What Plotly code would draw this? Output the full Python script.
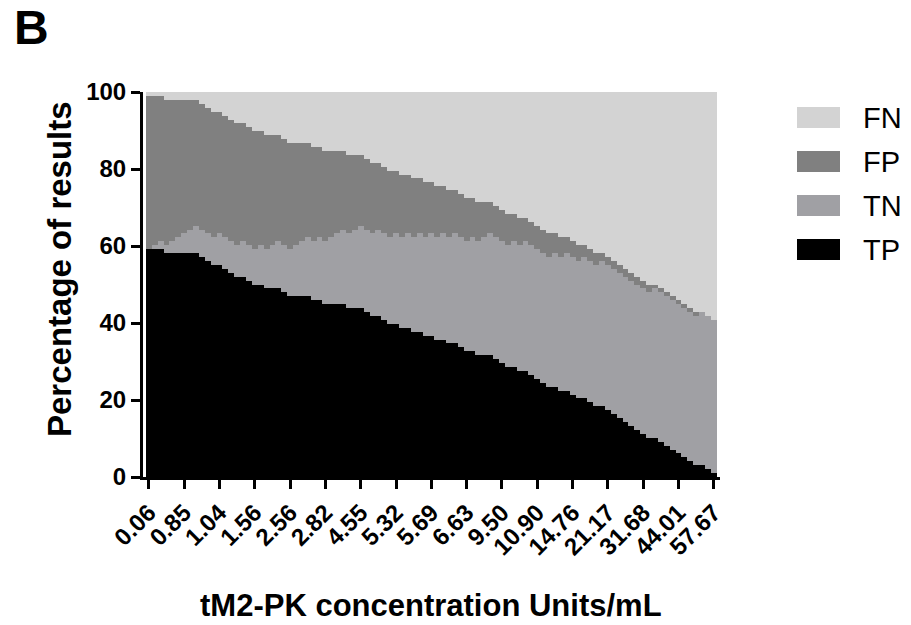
import plotly.graph_objects as go

# ---- data (counts out of 98 results) ----
N_RESULTS = 98

TP_n = [58, 58, 58, 57, 57, 57, 57, 57, 57, 56,
        55, 54, 54, 53, 52, 51, 51, 50, 49, 49,
        48, 48, 48, 47, 46, 46, 46, 46, 45, 45,
        44, 44, 44, 44, 43, 43, 43, 42, 41, 41,
        40, 39, 39, 38, 38, 37, 37, 36, 36, 35,
        35, 34, 34, 33, 32, 32, 31, 31, 31, 30,
        29, 28, 28, 27, 27, 26, 25, 24, 23, 23,
        22, 22, 21, 20, 20, 19, 18, 18, 17, 16,
        15, 14, 13, 12, 11, 10, 10, 9, 8, 7,
        6, 5, 4, 3, 3, 2, 1]

TN_n = [0, 1, 2, 2, 3, 4, 5, 6, 7, 7,
        7, 7, 8, 8, 8, 8, 9, 9, 9, 10,
        10, 11, 12, 12, 12, 13, 14, 15, 15, 16,
        16, 17, 18, 19, 19, 20, 21, 21, 21, 22,
        22, 22, 23, 23, 24, 24, 25, 25, 26, 26,
        27, 27, 28, 28, 28, 29, 29, 30, 31, 31,
        31, 31, 32, 32, 33, 33, 33, 33, 33, 34,
        34, 35, 35, 35, 36, 36, 36, 37, 37, 37,
        37, 37, 37, 37, 37, 37, 38, 38, 38, 38,
        38, 38, 38, 38, 39, 39, 39]

FP_n = [39, 38, 37, 37, 36, 35, 34, 33, 32, 32,
        32, 32, 31, 31, 31, 31, 30, 30, 30, 29,
        29, 28, 27, 27, 27, 26, 25, 24, 24, 23,
        23, 22, 21, 20, 20, 19, 18, 18, 18, 17,
        17, 17, 16, 16, 15, 15, 14, 14, 13, 13,
        12, 12, 11, 11, 11, 10, 10, 9, 8, 8,
        8, 8, 7, 7, 6, 6, 6, 6, 6, 5,
        5, 4, 4, 4, 3, 3, 3, 2, 2, 2,
        2, 2, 2, 2, 2, 2, 1, 1, 1, 1,
        1, 1, 1, 1, 0, 0, 0]

FN_n = [1, 1, 1, 2, 2, 2, 2, 2, 2, 3,
        4, 5, 5, 6, 7, 8, 8, 9, 10, 10,
        11, 11, 11, 12, 13, 13, 13, 13, 14, 14,
        15, 15, 15, 15, 16, 16, 16, 17, 18, 18,
        19, 20, 20, 21, 21, 22, 22, 23, 23, 24,
        24, 25, 25, 26, 27, 27, 28, 28, 28, 29,
        30, 31, 31, 32, 32, 33, 34, 35, 36, 36,
        37, 37, 38, 39, 39, 40, 41, 41, 42, 43,
        44, 45, 46, 47, 48, 49, 49, 50, 51, 52,
        53, 54, 55, 56, 56, 57, 58]

TICK_LABELS = ["0.06", "0.85", "1.04", "1.56", "2.56", "2.82", "4.55", "5.32",
               "5.69", "6.63", "9.50", "10.90", "14.76", "21.17", "31.68",
               "44.01", "57.67"]
TICK_EVERY = 6

SERIES = ["TP", "TN", "FP", "FN"]
COLORS = {"TP": "#000000", "TN": "#a0a0a4", "FP": "#808080", "FN": "#d3d3d3"}
COUNTS = {"TP": TP_n, "TN": TN_n, "FP": FP_n, "FN": FN_n}

FONT = "Liberation Sans, Arial, Helvetica, sans-serif"

# ---- layout geometry (pixels) ----
W, H = 911, 625
L, R, T, B = 143, 191, 92, 148
PW, PH = W - L - R, H - T - B


def px(xp):
    return (xp - L) / PW


def py(yp):
    return (H - B - yp) / PH


bars = list(range(len(TP_n)))

fig = go.Figure()
for s in SERIES:
    fig.add_trace(go.Bar(
        x=bars,
        y=[c / N_RESULTS * 100 for c in COUNTS[s]],
        name=s,
        marker=dict(color=COLORS[s], line=dict(width=0)),
        showlegend=False,
        hoverinfo="skip",
    ))

axis_common = dict(
    showline=True, linewidth=3, linecolor="black",
    ticks="outside", ticklen=9, tickwidth=3, tickcolor="black",
    showgrid=False, zeroline=False,
    tickfont=dict(family=FONT, size=24, color="black", weight="bold"),
)

fig.update_layout(
    width=W, height=H,
    margin=dict(l=L, r=R, t=T, b=B, pad=0),
    paper_bgcolor="white", plot_bgcolor="white",
    barmode="stack", bargap=0,
    xaxis=dict(
        range=[-1.0, 97.05],
        tickmode="array",
        tickvals=[i * TICK_EVERY for i in range(len(TICK_LABELS))],
        ticktext=TICK_LABELS,
        tickangle=-45,
        **axis_common,
    ),
    yaxis=dict(
        range=[0, 100],
        tickmode="array",
        tickvals=[0, 20, 40, 60, 80, 100],
        **axis_common,
    ),
)

annotations = [
    dict(text="B", x=px(12), y=py(28), xanchor="left", yanchor="middle",
         font=dict(family=FONT, size=48, color="black", weight="bold")),
    dict(text="Percentage of results", x=px(59), y=py(269), textangle=-90,
         xanchor="center", yanchor="middle",
         font=dict(family=FONT, size=33, color="black", weight="bold")),
    dict(text="tM2-PK concentration Units/mL", x=px(431), y=py(605),
         xanchor="center", yanchor="middle",
         font=dict(family=FONT, size=31, color="black", weight="bold")),
]

shapes = []
legend_order = ["FN", "FP", "TN", "TP"]
legend_top = [107, 151, 195, 239]
for name, top in zip(legend_order, legend_top):
    shapes.append(dict(
        type="rect", xref="paper", yref="paper",
        x0=px(797), x1=px(840), y0=py(top + 21), y1=py(top),
        fillcolor=COLORS[name], line=dict(width=0),
    ))
    annotations.append(dict(
        text=name, x=px(861), y=py(top + 11), xanchor="left", yanchor="middle",
        font=dict(family=FONT, size=29, color="black"),
    ))

for a in annotations:
    a.update(xref="paper", yref="paper", showarrow=False)

fig.update_layout(annotations=annotations, shapes=shapes)

fig.write_html(
    "out.html",
    config={"displayModeBar": False},
    post_script="document.body.style.margin='0';document.body.style.overflow='hidden';",
)
